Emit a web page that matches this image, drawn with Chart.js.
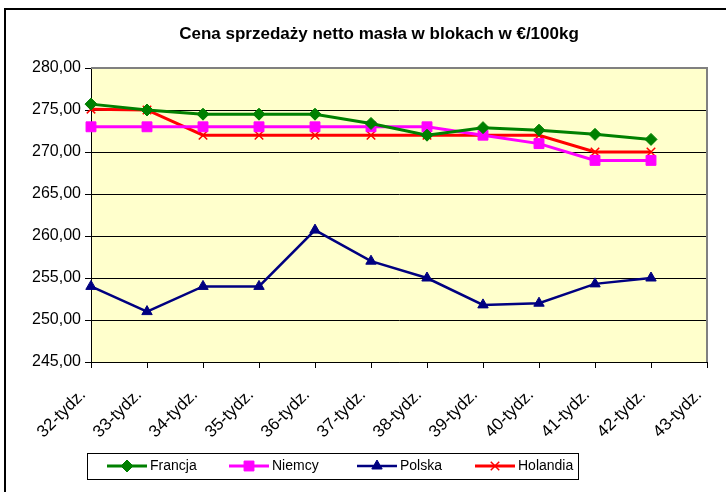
<!DOCTYPE html>
<html>
<head>
<meta charset="utf-8">
<script src="https://cdn.jsdelivr.net/npm/chart.js@4"></script>
<style>
  html, body { margin: 0; padding: 0; background: #fff; }
  #wrap { width: 726px; height: 492px; }
</style>
</head>
<body>
<div id="wrap"><canvas id="chart" width="726" height="492"></canvas></div>
<script>
const chartTitle = 'Cena sprzedaży netto masła w blokach w €/100kg';
const weeks = ['32-tydz.', '33-tydz.', '34-tydz.', '35-tydz.', '36-tydz.', '37-tydz.',
               '38-tydz.', '39-tydz.', '40-tydz.', '41-tydz.', '42-tydz.', '43-tydz.'];
const francja = [275.7, 275.0, 274.5, 274.5, 274.5, 273.4, 272.0, 272.9, 272.6, 272.1, 271.5];
const niemcy = [273.0, 273.0, 273.0, 273.0, 273.0, 273.0, 273.0, 272.0, 271.0, 269.0, 269.0];
const polska = [254.0, 251.0, 254.0, 254.0, 260.7, 257.0, 255.0, 251.8, 252.0, 254.3, 255.0];
const holandia = [275.1, 275.0, 272.0, 272.0, 272.0, 272.0, 272.0, 272.0, 272.0, 270.0, 270.0];

const fontFamily = "'Liberation Sans', Arial, sans-serif";

function series(label, data, color, pointStyle, radius, width) {
    return {
        label: label,
        data: data,
        borderColor: color,
        backgroundColor: color,
        borderWidth: width,
        pointStyle: pointStyle,
        pointRadius: radius,
        pointHoverRadius: radius,
        pointBorderWidth: pointStyle === 'crossRot' ? 1.5 : 1,
        tension: 0
    };
}

// frame, plot background, title and the boxed legend (Excel style)
const excelLook = {
    id: 'excelLook',
    beforeDraw(chart) {
        const ctx = chart.ctx;
        const a = chart.chartArea;
        ctx.save();
        ctx.fillStyle = '#ffffff';
        ctx.fillRect(0, 0, chart.width, chart.height);
        ctx.strokeStyle = '#000000';
        ctx.lineWidth = 2;
        ctx.beginPath();
        ctx.moveTo(5, chart.height);
        ctx.lineTo(5, 9);
        ctx.lineTo(chart.width, 9);
        ctx.stroke();
        ctx.fillStyle = '#FFFFCC';
        ctx.fillRect(a.left, a.top, a.right - a.left, a.bottom - a.top);
        ctx.restore();
    },
    afterDatasetsDraw(chart) {
        const ctx = chart.ctx;
        const a = chart.chartArea;
        ctx.save();
        ctx.strokeStyle = '#808080';
        ctx.lineWidth = 2;
        ctx.beginPath();
        ctx.moveTo(a.left, a.top);
        ctx.lineTo(a.right, a.top);
        ctx.lineTo(a.right, a.bottom);
        ctx.stroke();
        ctx.restore();
    },
    afterDraw(chart) {
        const ctx = chart.ctx;
        ctx.save();
        ctx.fillStyle = '#000';
        ctx.font = 'bold 17px ' + fontFamily;
        ctx.textAlign = 'center';
        ctx.textBaseline = 'middle';
        ctx.fillText(chartTitle, 379, 34);

        // legend box
        ctx.strokeStyle = '#000';
        ctx.lineWidth = 1;
        ctx.strokeRect(87.5, 453.5, 491, 26);
        const xs = [107, 229, 357, 475];
        const y = 466;
        ctx.font = '14px ' + fontFamily;
        ctx.textAlign = 'left';
        chart.data.datasets.forEach((ds, i) => {
            const x = xs[i];
            ctx.strokeStyle = ds.borderColor;
            ctx.lineWidth = ds.borderWidth;
            ctx.beginPath();
            ctx.moveTo(x, y);
            ctx.lineTo(x + 40, y);
            ctx.stroke();
            ctx.fillStyle = ds.backgroundColor;
            ctx.lineWidth = ds.pointBorderWidth;
            Chart.helpers.drawPoint(ctx, {
                pointStyle: ds.pointStyle,
                radius: ds.pointRadius,
                rotation: 0,
                borderWidth: ds.pointBorderWidth
            }, x + 20, y);
            ctx.fillStyle = '#000';
            ctx.fillText(ds.label, x + 43, y);
        });
        ctx.restore();
    }
};

new Chart(document.getElementById('chart'), {
    type: 'line',
    data: {
        labels: weeks,
        datasets: [
            series('Francja', francja, '#008000', 'rectRot', 6, 3),
            series('Niemcy', niemcy, '#FF00FF', 'rect', 7, 3),
            series('Polska', polska, '#000080', 'triangle', 6, 2.5),
            series('Holandia', holandia, '#FF0000', 'crossRot', 6, 3)
        ]
    },
    options: {
        responsive: false,
        animation: false,
        layout: { padding: { top: 68, right: 19, left: 0, bottom: 0 } },
        plugins: {
            legend: { display: false },
            title: { display: false },
            tooltip: { enabled: false }
        },
        scales: {
            x: {
                offset: false,
                afterFit(scale) {
                    scale.height = 130;
                    scale.paddingLeft = 0;
                    scale.paddingRight = 0;
                },
                grid: {
                    drawOnChartArea: false,
                    drawTicks: true,
                    tickLength: 6,
                    color: '#000'
                },
                border: { color: '#000', width: 1 },
                ticks: {
                    minRotation: 45,
                    maxRotation: 45,
                    autoSkip: false,
                    padding: 17,
                    labelOffset: -8,
                    color: '#000',
                    font: { family: fontFamily, size: 17 }
                }
            },
            y: {
                min: 245,
                max: 280,
                afterFit(scale) { scale.width = 91; },
                grid: {
                    color: '#000',
                    lineWidth: 1,
                    drawTicks: true,
                    tickLength: 6,
                    tickColor: '#000'
                },
                border: { color: '#000', width: 1 },
                ticks: {
                    stepSize: 5,
                    color: '#000',
                    padding: 4,
                    font: { family: fontFamily, size: 16 },
                    callback: v => v.toFixed(2).replace('.', ',')
                }
            }
        }
    },
    plugins: [excelLook]
});
</script>
</body>
</html>
